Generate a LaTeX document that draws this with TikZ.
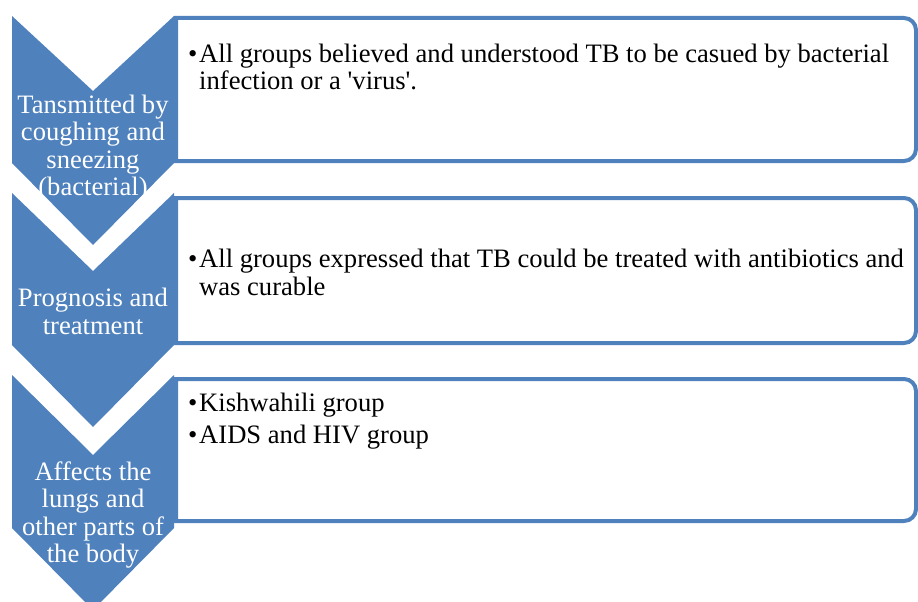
\documentclass[tikz,border=0pt]{standalone}
\usepackage{fontspec}
\setmainfont{Liberation Serif}
\definecolor{accent}{HTML}{4F81BD}
\newcommand\bul{\makebox[11pt][l]{•}}
\newcommand\hang{\hspace*{11pt}}
\begin{document}
\begin{tikzpicture}[x=1pt,y=-1pt,
  panel/.style={draw=accent, line width=4pt, fill=white},
  chev/.style={fill=accent, draw=none},
  label/.style={text=white, align=center, inner sep=0pt,
    font=\fontsize{26.6}{27.5}\selectfont},
  item/.style={text=black, align=left, inner sep=0pt, anchor=north west,
    font=\fontsize{26.6}{27.5}\selectfont}]
\useasboundingbox (0,0) rectangle (918,602);

% text panels with rounded right-hand corners
\foreach \t/\b in {18/161, 198/343, 379/521}{
  \draw[panel] (176,\t) -- (904,\t) to[out=0,in=90] (916,\t+12)
    -- (916,\b-12) to[out=-90,in=0] (904,\b) -- (176,\b) -- cycle;
}

% chevrons pointing down
\fill[chev] (12,16) -- (93,91) -- (174,16) -- (174,163) -- (93,245) -- (12,163) -- cycle;
\fill[chev] (12,193) -- (93,271) -- (174,193) -- (174,345) -- (93,427) -- (12,345) -- cycle;
\fill[chev] (12,375) -- (93,455) -- (174,375) -- (174,528) -- (93,610) -- (12,528) -- cycle;

% chevron labels
\node[label] (l1) at (93,148) {Tansmitted by\\coughing and\\sneezing\\(bacterial)};
\node[label] (l2) at (93,311.5) {Prognosis and\\treatment};
\node[label] (l3) at (93,515) {Affects the\\lungs and\\other parts of\\the body};

% panel contents
\node[item] (t1) at (188,43.5) {\bul All groups believed and understood TB to be casued by bacterial\\
  \hang infection or a \textquotesingle virus\textquotesingle.};
\node[item] (t2) at (188,249) {\bul All groups expressed that TB could be treated with antibiotics and\\
  \hang was curable};
\node[item] (t3a) at (188,392.5) {\bul Kishwahili group};
\node[item] (t3b) at (188,424.5) {\bul AIDS and HIV group};
\end{tikzpicture}
\end{document}
